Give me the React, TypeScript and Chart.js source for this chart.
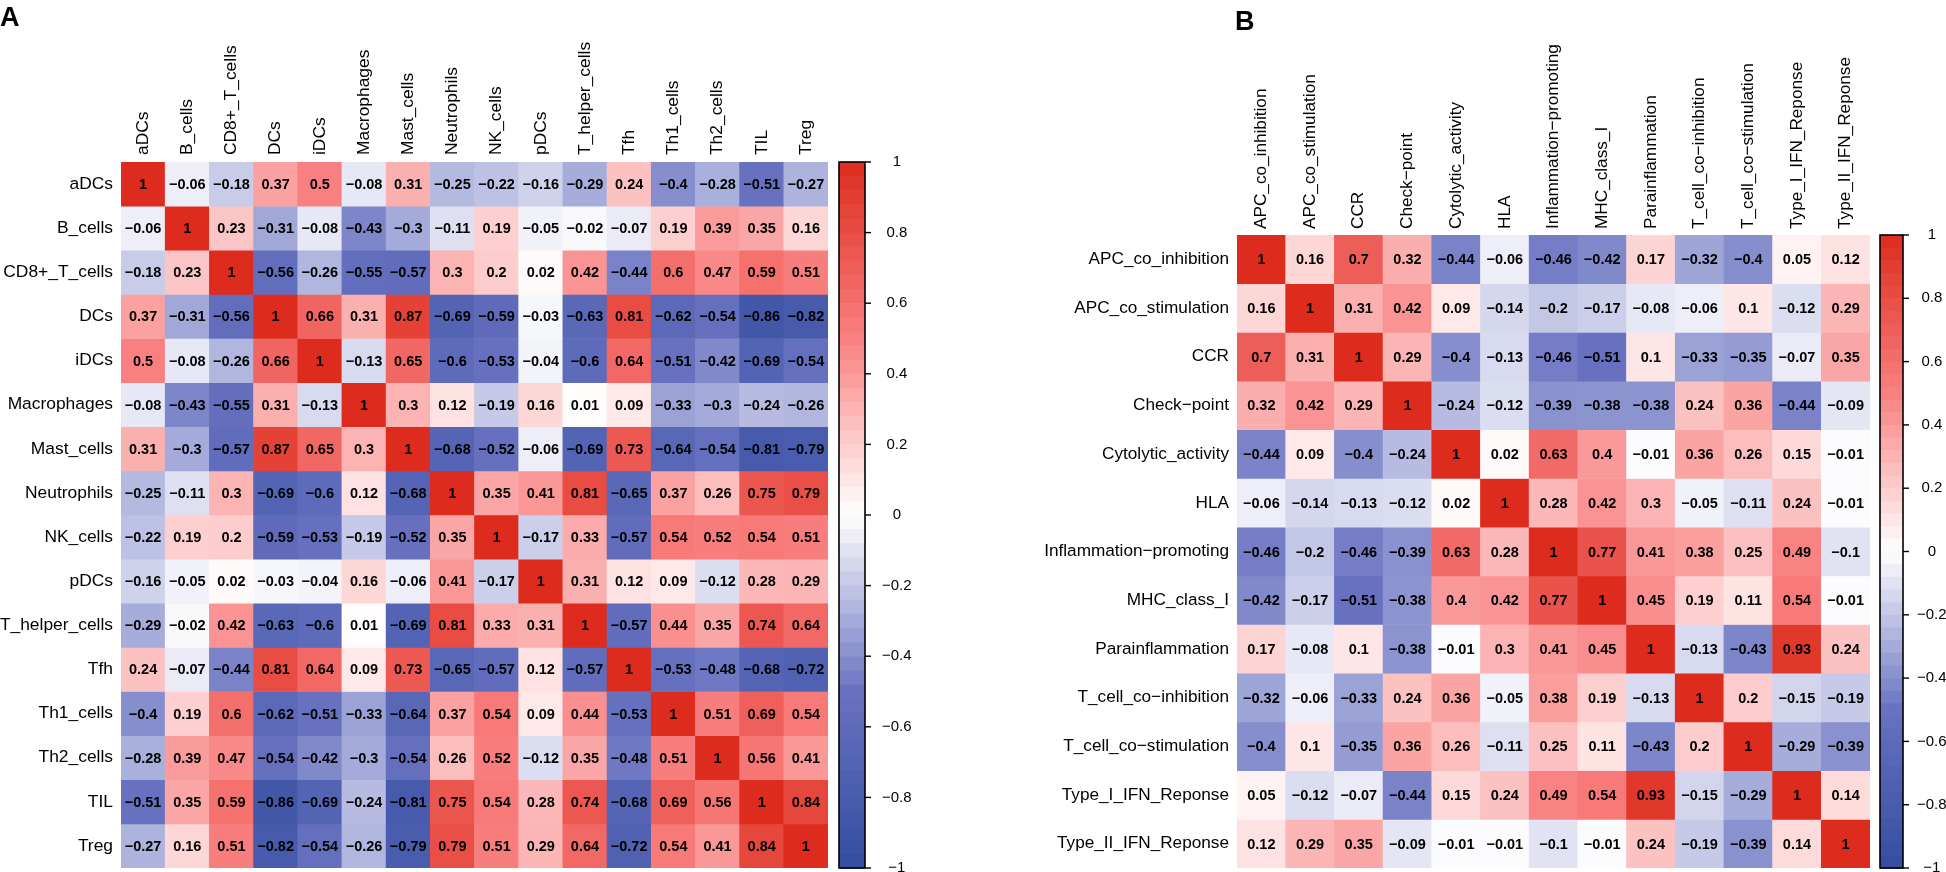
import React, { useEffect, useRef } from "react";
import { Chart, registerables } from "chart.js";

Chart.register(...registerables);

// ---------------- Data ----------------
const immuneCells = [
  "aDCs", "B_cells", "CD8+_T_cells", "DCs", "iDCs", "Macrophages", "Mast_cells", "Neutrophils",
  "NK_cells", "pDCs", "T_helper_cells", "Tfh", "Th1_cells", "Th2_cells", "TIL", "Treg",
];

const immuneCorr = [
  [1, -0.06, -0.18, 0.37, 0.5, -0.08, 0.31, -0.25, -0.22, -0.16, -0.29, 0.24, -0.4, -0.28, -0.51, -0.27],
  [-0.06, 1, 0.23, -0.31, -0.08, -0.43, -0.3, -0.11, 0.19, -0.05, -0.02, -0.07, 0.19, 0.39, 0.35, 0.16],
  [-0.18, 0.23, 1, -0.56, -0.26, -0.55, -0.57, 0.3, 0.2, 0.02, 0.42, -0.44, 0.6, 0.47, 0.59, 0.51],
  [0.37, -0.31, -0.56, 1, 0.66, 0.31, 0.87, -0.69, -0.59, -0.03, -0.63, 0.81, -0.62, -0.54, -0.86, -0.82],
  [0.5, -0.08, -0.26, 0.66, 1, -0.13, 0.65, -0.6, -0.53, -0.04, -0.6, 0.64, -0.51, -0.42, -0.69, -0.54],
  [-0.08, -0.43, -0.55, 0.31, -0.13, 1, 0.3, 0.12, -0.19, 0.16, 0.01, 0.09, -0.33, -0.3, -0.24, -0.26],
  [0.31, -0.3, -0.57, 0.87, 0.65, 0.3, 1, -0.68, -0.52, -0.06, -0.69, 0.73, -0.64, -0.54, -0.81, -0.79],
  [-0.25, -0.11, 0.3, -0.69, -0.6, 0.12, -0.68, 1, 0.35, 0.41, 0.81, -0.65, 0.37, 0.26, 0.75, 0.79],
  [-0.22, 0.19, 0.2, -0.59, -0.53, -0.19, -0.52, 0.35, 1, -0.17, 0.33, -0.57, 0.54, 0.52, 0.54, 0.51],
  [-0.16, -0.05, 0.02, -0.03, -0.04, 0.16, -0.06, 0.41, -0.17, 1, 0.31, 0.12, 0.09, -0.12, 0.28, 0.29],
  [-0.29, -0.02, 0.42, -0.63, -0.6, 0.01, -0.69, 0.81, 0.33, 0.31, 1, -0.57, 0.44, 0.35, 0.74, 0.64],
  [0.24, -0.07, -0.44, 0.81, 0.64, 0.09, 0.73, -0.65, -0.57, 0.12, -0.57, 1, -0.53, -0.48, -0.68, -0.72],
  [-0.4, 0.19, 0.6, -0.62, -0.51, -0.33, -0.64, 0.37, 0.54, 0.09, 0.44, -0.53, 1, 0.51, 0.69, 0.54],
  [-0.28, 0.39, 0.47, -0.54, -0.42, -0.3, -0.54, 0.26, 0.52, -0.12, 0.35, -0.48, 0.51, 1, 0.56, 0.41],
  [-0.51, 0.35, 0.59, -0.86, -0.69, -0.24, -0.81, 0.75, 0.54, 0.28, 0.74, -0.68, 0.69, 0.56, 1, 0.84],
  [-0.27, 0.16, 0.51, -0.82, -0.54, -0.26, -0.79, 0.79, 0.51, 0.29, 0.64, -0.72, 0.54, 0.41, 0.84, 1],
];

const immuneFunctions = [
  "APC_co_inhibition", "APC_co_stimulation", "CCR", "Check\u2212point", "Cytolytic_activity", "HLA",
  "Inflammation\u2212promoting", "MHC_class_I", "Parainflammation", "T_cell_co\u2212inhibition",
  "T_cell_co\u2212stimulation", "Type_I_IFN_Reponse", "Type_II_IFN_Reponse",
];

const functionCorr = [
  [1, 0.16, 0.7, 0.32, -0.44, -0.06, -0.46, -0.42, 0.17, -0.32, -0.4, 0.05, 0.12],
  [0.16, 1, 0.31, 0.42, 0.09, -0.14, -0.2, -0.17, -0.08, -0.06, 0.1, -0.12, 0.29],
  [0.7, 0.31, 1, 0.29, -0.4, -0.13, -0.46, -0.51, 0.1, -0.33, -0.35, -0.07, 0.35],
  [0.32, 0.42, 0.29, 1, -0.24, -0.12, -0.39, -0.38, -0.38, 0.24, 0.36, -0.44, -0.09],
  [-0.44, 0.09, -0.4, -0.24, 1, 0.02, 0.63, 0.4, -0.01, 0.36, 0.26, 0.15, -0.01],
  [-0.06, -0.14, -0.13, -0.12, 0.02, 1, 0.28, 0.42, 0.3, -0.05, -0.11, 0.24, -0.01],
  [-0.46, -0.2, -0.46, -0.39, 0.63, 0.28, 1, 0.77, 0.41, 0.38, 0.25, 0.49, -0.1],
  [-0.42, -0.17, -0.51, -0.38, 0.4, 0.42, 0.77, 1, 0.45, 0.19, 0.11, 0.54, -0.01],
  [0.17, -0.08, 0.1, -0.38, -0.01, 0.3, 0.41, 0.45, 1, -0.13, -0.43, 0.93, 0.24],
  [-0.32, -0.06, -0.33, 0.24, 0.36, -0.05, 0.38, 0.19, -0.13, 1, 0.2, -0.15, -0.19],
  [-0.4, 0.1, -0.35, 0.36, 0.26, -0.11, 0.25, 0.11, -0.43, 0.2, 1, -0.29, -0.39],
  [0.05, -0.12, -0.07, -0.44, 0.15, 0.24, 0.49, 0.54, 0.93, -0.15, -0.29, 1, 0.14],
  [0.12, 0.29, 0.35, -0.09, -0.01, -0.01, -0.1, -0.01, 0.24, -0.19, -0.39, 0.14, 1],
];

const colorbarRange = [-1, 1];
const colorbarStep = 0.2;

// ---------------- Style ----------------
const FONT = '"Liberation Sans", Arial, Helvetica, sans-serif';

const paletteStops: [number, number[]][] = [
  [-1, [52, 76, 160]],
  [-0.5, [104, 114, 192]],
  [0, [255, 255, 255]],
  [0.5, [249, 128, 128]],
  [1, [221, 44, 30]],
];

function corrColor(v: number): string {
  const c = Math.max(-1, Math.min(1, v));
  for (let i = 0; i < paletteStops.length - 1; i++) {
    const [a, ca] = paletteStops[i];
    const [b, cb] = paletteStops[i + 1];
    if (c >= a && c <= b) {
      const t = (c - a) / (b - a);
      const r = Math.round(ca[0] + (cb[0] - ca[0]) * t);
      const g = Math.round(ca[1] + (cb[1] - ca[1]) * t);
      const bl = Math.round(ca[2] + (cb[2] - ca[2]) * t);
      return `rgb(${r},${g},${bl})`;
    }
  }
  return "#fff";
}

function fmt(v: number): string {
  const r = Math.round(v * 100) / 100;
  return String(r === 0 ? 0 : r).replace("-", "\u2212");
}

const cellLabelsPlugin = {
  id: "cellLabels",
  afterDatasetsDraw(chart: any, _args: any, opts: any) {
    const ctx = chart.ctx;
    ctx.save();
    ctx.font = `bold ${opts.size}px ${FONT}`;
    ctx.fillStyle = "#000";
    ctx.textAlign = "center";
    ctx.textBaseline = "middle";
    chart.data.datasets.forEach((ds: any, i: number) => {
      const meta = chart.getDatasetMeta(i);
      meta.data.forEach((el: any, j: number) => {
        const p = el.getProps(["x", "y", "base"], true);
        ctx.fillText(fmt(ds.corr[j]), p.x, (p.y + p.base) / 2 + 1);
      });
    });
    ctx.restore();
  },
};

const colorBarPlugin = {
  id: "colorBar",
  afterDraw(chart: any, _args: any, opts: any) {
    const sc = chart.scales.cb;
    if (!sc) return;
    const ctx = chart.ctx;
    const x0 = chart.chartArea.right + opts.offset;
    const w = opts.width;
    const top = sc.getPixelForValue(colorbarRange[1]);
    const bottom = sc.getPixelForValue(colorbarRange[0]);
    const bands = 50;
    const h = (bottom - top) / bands;
    ctx.save();
    for (let k = 0; k < bands; k++) {
      const v = colorbarRange[1] - ((k + 0.5) / bands) * (colorbarRange[1] - colorbarRange[0]);
      ctx.fillStyle = corrColor(v);
      ctx.fillRect(x0, top + k * h, w, h + 0.6);
    }
    ctx.strokeStyle = "#000";
    ctx.lineWidth = 1.6;
    ctx.strokeRect(x0, top, w, bottom - top);
    ctx.lineWidth = 1.4;
    sc.ticks.forEach((t: any) => {
      const y = sc.getPixelForValue(t.value);
      ctx.beginPath();
      ctx.moveTo(x0 + w, y);
      ctx.lineTo(x0 + w + 6, y);
      ctx.stroke();
    });
    ctx.restore();
  },
};

type PanelProps = {
  labels: string[];
  matrix: number[][];
  left: number;
  width: number;
  axisLeft: number;
  axisTop: number;
  cbWidth: number;
  cbOffset: number;
  cbBarWidth: number;
  cbLabelPad: number;
  labelSize: number;
  cellSize: number;
  colPad: number;
};

const hiddenGrid = { display: false, drawTicks: false, drawOnChartArea: false };

function CorrPanel(p: PanelProps) {
  const ref = useRef<HTMLCanvasElement | null>(null);
  useEffect(() => {
    if (!ref.current) return;
    const n = p.labels.length;
    const labelFont = { family: FONT, size: p.labelSize };
    const chart = new Chart(ref.current, {
      type: "bar",
      data: {
        labels: p.labels,
        datasets: p.matrix.map((row, i) => ({
          label: p.labels[i],
          data: row.map(() => 1),
          corr: row,
          backgroundColor: row.map(corrColor),
          borderWidth: 0,
          barPercentage: 1,
          categoryPercentage: 1,
          yAxisID: "y",
        })) as any,
      },
      options: {
        responsive: false,
        animation: false,
        events: [],
        devicePixelRatio: 1,
        layout: { padding: { left: 0, right: 0, top: 0, bottom: 4 }, autoPadding: false } as any,
        plugins: {
          legend: { display: false },
          tooltip: { enabled: false },
          cellLabels: { size: p.cellSize },
          colorBar: { offset: p.cbOffset, width: p.cbBarWidth },
        } as any,
        scales: {
          x: {
            type: "category",
            position: "top",
            stacked: true,
            grid: hiddenGrid,
            border: { display: false },
            ticks: {
              autoSkip: false,
              minRotation: 90,
              maxRotation: 90,
              padding: p.colPad,
              labelOffset: p.labelSize * 1.2,
              color: "#000",
              font: labelFont,
            },
            afterFit: (s: any) => {
              s.height = p.axisTop;
              s.paddingLeft = 0;
              s.paddingRight = 0;
            },
          },
          y: {
            type: "linear",
            position: "left",
            stacked: true,
            reverse: true,
            min: 0,
            max: n,
            grid: hiddenGrid,
            border: { display: false },
            afterBuildTicks: (s: any) => {
              s.ticks = p.labels.map((_, i) => ({ value: i + 0.5 }));
            },
            ticks: {
              autoSkip: false,
              padding: 8,
              color: "#000",
              font: labelFont,
              callback: (_v: any, i: number) => p.labels[i],
            },
            afterFit: (s: any) => {
              s.width = p.axisLeft;
              s.paddingTop = 0;
              s.paddingBottom = 0;
            },
          },
          cb: {
            type: "linear",
            position: "right",
            min: colorbarRange[0],
            max: colorbarRange[1],
            grid: hiddenGrid,
            border: { display: false },
            ticks: {
              stepSize: colorbarStep,
              crossAlign: "center",
              padding: p.cbLabelPad,
              color: "#000",
              font: { family: FONT, size: 15 },
              callback: (v: any) => fmt(Math.round(Number(v) * 10) / 10),
            },
            afterFit: (s: any) => {
              s.width = p.cbWidth;
              s.paddingTop = 0;
              s.paddingBottom = 0;
            },
          },
        } as any,
      },
      plugins: [cellLabelsPlugin, colorBarPlugin],
    } as any);
    return () => chart.destroy();
  }, []);
  return (
    <canvas
      ref={ref}
      width={p.width}
      height={872}
      style={{ position: "absolute", left: p.left, top: 0, width: p.width, height: 872, display: "block" }}
    />
  );
}

const letterStyle: React.CSSProperties = {
  position: "absolute",
  fontFamily: FONT,
  fontWeight: "bold",
  fontSize: 27,
  lineHeight: "27px",
  color: "#000",
};

export default function App() {
  return (
    <div style={{ position: "absolute", left: 0, top: 0, width: 1946, height: 872, background: "#fff", overflow: "hidden" }}>
      <CorrPanel
        labels={immuneCells}
        matrix={immuneCorr}
        left={0}
        width={960}
        axisLeft={121}
        axisTop={162}
        cbWidth={132}
        cbOffset={11}
        cbBarWidth={26}
        cbLabelPad={54}
        labelSize={17.4}
        cellSize={14.5}
        colPad={7}
      />
      <CorrPanel
        labels={immuneFunctions}
        matrix={functionCorr}
        left={960}
        width={986}
        axisLeft={277}
        axisTop={235}
        cbWidth={76}
        cbOffset={10}
        cbBarWidth={23}
        cbLabelPad={47}
        labelSize={17.2}
        cellSize={14.5}
        colPad={6}
      />
      <div style={{ ...letterStyle, left: 0, top: 4 }}>A</div>
      <div style={{ ...letterStyle, left: 1235, top: 8 }}>B</div>
    </div>
  );
}
